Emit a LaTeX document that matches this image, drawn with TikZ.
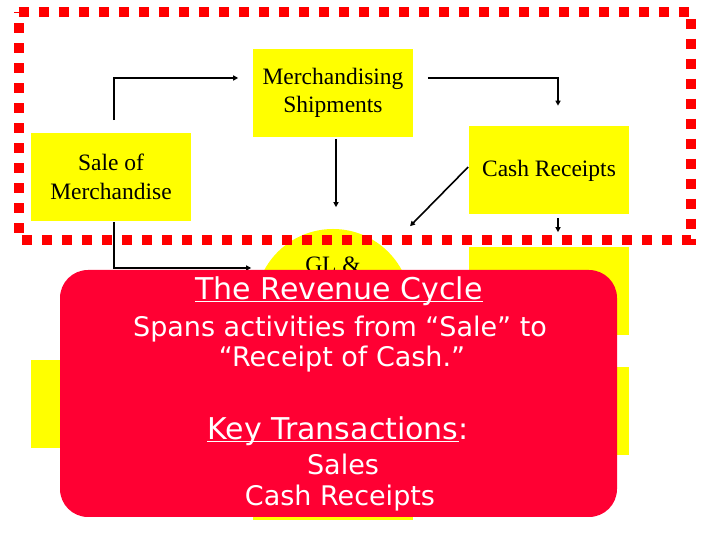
\documentclass[tikz,border=0pt]{standalone}
\usepackage{fontspec}
\setmainfont{Liberation Serif}
\newfontfamily\comicfont{DejaVu Sans}
\usetikzlibrary{arrows.meta}
\definecolor{boxyellow}{RGB}{255,255,0}
\definecolor{cyclered}{RGB}{255,0,51}
\definecolor{dotred}{RGB}{255,0,0}
\newcommand{\revul}[1]{\underline{\smash{#1}}}

\begin{document}
\begin{tikzpicture}[x=1pt,y=1pt,line width=1.6pt,
    yellowbox/.style={fill=boxyellow,minimum width=160pt,minimum height=88pt,
      inner sep=0pt,align=center,font=\fontsize{23.5}{28.5}\selectfont},
    glcirc/.style={circle,fill=boxyellow,minimum size=156pt,inner sep=0pt},
    flow/.style={-{Triangle[length=5pt,width=5pt]}},
    edgebox/.style={draw=dotred,line width=10pt,dash pattern=on 10pt off 10pt},
    cycletext/.style={text=white,anchor=base,inner sep=0pt,
      font=\comicfont\fontsize{27}{32}\selectfont},
    cyclehead/.style={cycletext,font=\comicfont\fontsize{30}{36}\selectfont}]
    \path[use as bounding box] (0,0) rectangle (720,540);
    % boxes of the cycle
    \node[yellowbox] (merch) at (333,447) {Merchandising\\Shipments};
    \node[yellowbox] (sale) at (111,363) {Sale of\\Merchandise};
    \node[yellowbox] (cash) at (549,369.5) {Cash Receipts};
    \node[yellowbox] (recv) at (549,249) {};
    \node[yellowbox] (lowleft) at (111,135.5) {};
    \node[yellowbox] (lowright) at (549,129) {};
    \node[yellowbox] (lowmid) at (333,64) {};
    \node[glcirc] (gl) at (333,233) {};
    \node[anchor=base,inner sep=0pt,font=\fontsize{23.5}{28.5}\selectfont]
      (gltext) at (333,267) {GL \&};
    % dotted frame
    \draw[edgebox] (18.5,528) -- (691,528) -- (691,300) -- (18.5,300) -- cycle;
    % connectors
    \draw[flow] ([xshift=3pt,yshift=12pt]sale.north) |- ([xshift=-14pt,yshift=15pt]merch.west);
    \draw[flow] ([xshift=14pt,yshift=15pt]merch.east) -| ([xshift=9pt,yshift=20pt]cash.north);
    \draw[flow] ([xshift=3pt,yshift=-1pt]merch.south) -- ([xshift=3pt,yshift=21pt]gl.north);
    \draw[flow] ([yshift=3.5pt]cash.west) -- ([xshift=77pt,yshift=2pt]gl.north);
    \draw[flow] ([xshift=9pt,yshift=-3pt]cash.south) -- ([xshift=9pt,yshift=14pt]recv.north);
    \draw[flow] ([xshift=3pt]sale.south) |- ([xshift=-3pt,yshift=39pt]gl.west);
    % summary card
    \fill[cyclered,rounded corners=28pt] (60,23) rectangle (617,270);
    \node[cyclehead] (title) at (339,240) {\revul{The Revenue Cycle}};
    \node[cycletext] (span) at (340,203) {Spans activities from “Sale” to};
    \node[cycletext] (receipt) at (342,173) {“Receipt of Cash.”};
    \node[cyclehead] (keytx) at (338,100) {\revul{Key Transactions}:};
    \node[cycletext] (sales) at (343,65) {Sales};
    \node[cycletext] (cashtx) at (340,34) {Cash Receipts};
  \end{tikzpicture}
\end{document}
